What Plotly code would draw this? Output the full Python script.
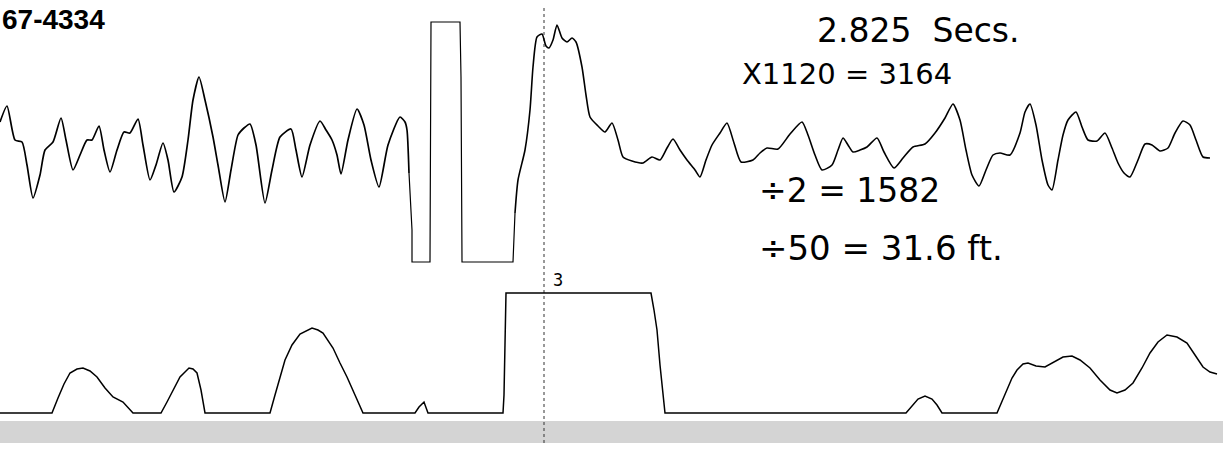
import plotly.graph_objects as go

top_x = [0, 7, 15, 22, 27, 33, 40, 45, 53, 61, 66, 73, 80, 87, 92, 99, 104, 110, 117, 124, 130, 138, 143, 150,
         156, 163, 168, 174, 182, 188, 193, 199, 205, 213, 218, 225, 231, 238, 244, 250, 256, 265, 272, 280,
         291, 296, 302, 310, 320, 326, 332, 337, 341, 348, 357, 364, 371, 379, 388, 400, 405, 407, 409, 412,
         412, 430, 431, 460, 461, 462, 513, 515, 518, 525, 530, 533, 537, 542, 546, 549, 553, 557, 562, 567,
         572, 576, 582, 586, 590, 598, 605, 612, 618, 623, 632, 643, 652, 660, 667, 673, 680, 687, 695, 700,
         706, 712, 720, 727, 734, 741, 753, 760, 767, 778, 790, 802, 808, 815, 822, 832, 838, 843, 848, 853,
         860, 867, 877, 884, 894, 903, 913, 925, 935, 945, 953, 960, 966, 972, 979, 986, 993, 1000, 1010,
         1020, 1025, 1030, 1036, 1042, 1048, 1052, 1058, 1063, 1068, 1076, 1082, 1088, 1097, 1105, 1112,
         1118, 1124, 1130, 1138, 1145, 1152, 1160, 1168, 1175, 1183, 1190, 1196, 1203, 1210]
top_y = [122, 106, 140, 142, 165, 198, 175, 150, 142, 118, 140, 170, 155, 140, 140, 126, 150, 172, 150, 132, 133,
         119, 145, 180, 165, 143, 160, 192, 177, 140, 100, 77, 100, 137, 165, 202, 170, 135, 128, 124, 145,
         203, 170, 137, 129, 150, 177, 145, 121, 130, 140, 155, 174, 140, 109, 125, 160, 187, 145, 117, 122,
         130, 173, 230, 262, 262, 22, 22, 77, 262, 262, 213, 180, 150, 110, 67, 37, 34, 46, 48, 40, 25, 38,
         42, 38, 42, 67, 95, 117, 126, 132, 123, 140, 157, 161, 163, 157, 160, 148, 139, 150, 160, 170, 177,
         160, 145, 133, 123, 143, 162, 160, 153, 148, 149, 134, 122, 135, 155, 170, 165, 150, 138, 145, 152,
         150, 147, 138, 152, 168, 158, 147, 144, 133, 118, 104, 120, 150, 175, 186, 170, 155, 153, 155, 133,
         112, 104, 125, 160, 185, 190, 160, 135, 120, 112, 127, 140, 141, 133, 148, 163, 173, 177, 160, 144,
         145, 151, 148, 133, 121, 125, 140, 157, 158]

# Lower trace
bot_x = [0, 52, 58, 64, 70, 77, 83, 90, 97, 105, 113, 123, 133, 161, 167, 173, 180, 189, 193, 197, 201, 205,
         270, 275, 280, 285, 292, 300, 312, 318, 323, 328, 333, 340, 347, 355, 363, 415, 419, 424, 428, 503,
         504, 506, 651, 654, 657, 660, 663, 665, 906, 912, 918, 925, 932, 937, 942, 997, 1005, 1012, 1017,
         1023, 1028, 1036, 1045, 1055, 1063, 1072, 1080, 1090, 1100, 1110, 1117, 1125, 1133, 1142, 1150,
         1158, 1167, 1177, 1187, 1195, 1203, 1210, 1217]
bot_y = [413, 413, 398, 384, 373, 369, 368, 371, 377, 388, 397, 402, 413, 413, 402, 390, 377, 368, 369, 373,
         390, 413, 413, 395, 377, 360, 345, 334, 328, 330, 333, 340, 348, 363, 377, 395, 413, 413, 407, 402,
         413, 413, 395, 293, 293, 310, 330, 365, 397, 413, 413, 406, 399, 396, 399, 405, 413, 413, 395, 378,
         370, 364, 363, 366, 367, 361, 357, 356, 360, 368, 380, 390, 393, 390, 383, 368, 353, 342, 335, 337,
         343, 355, 367, 372, 374]

cursor_x = [544, 544]
cursor_y = [8, 445]

title_text = "<b>67-4334</b>"
notes = ["2.825  Secs.", "X1120 = 3164", "÷2 = 1582", "÷50 = 31.6 ft."]
note_x = [815, 740, 757, 757]
note_y = [30, 74, 190, 248]
note_size = [33, 29, 33, 34]
marker_label = "3"


def segment(xs, ys, lo, hi):
    idx = [i for i, v in enumerate(xs) if lo <= v <= hi]
    return [xs[i] for i in idx], [ys[i] for i in idx]


fig = go.Figure()
fig.add_trace(go.Scatter(x=cursor_x, y=cursor_y, mode="lines",
                         line=dict(color="#333333", width=1, dash="dot"), hoverinfo="skip"))

# upper trace: smooth wave parts, straight pulse part
for lo, hi, shape, w in [(0, 409, "spline", 1.7), (409, 515, "linear", 1.2), (515, 1223, "spline", 1.6)]:
    sx, sy = segment(top_x, top_y, lo, hi)
    fig.add_trace(go.Scatter(x=sx, y=sy, mode="lines",
                             line=dict(color="black", width=w, shape=shape, smoothing=0.6),
                             hoverinfo="skip"))

# lower trace
fig.add_trace(go.Scatter(x=bot_x, y=bot_y, mode="lines",
                         line=dict(color="black", width=1.5), hoverinfo="skip"))

# dithered bottom band
fig.add_shape(type="rect", xref="x", yref="y", x0=0, x1=1223, y0=421, y1=443,
              fillcolor="#d4d4d4", line=dict(width=0), layer="below")

fig.add_annotation(x=0, y=2, xref="x", yref="y", text=title_text, showarrow=False,
                   xanchor="left", yanchor="top",
                   font=dict(family="Liberation Sans", size=28, color="black"))
for t, x, y, s in zip(notes, note_x, note_y, note_size):
    fig.add_annotation(x=x, y=y, xref="x", yref="y", text=t, showarrow=False,
                       xanchor="left", yanchor="middle",
                       font=dict(family="DejaVu Sans", size=s, color="black"))
fig.add_annotation(x=551, y=280, xref="x", yref="y", text=marker_label, showarrow=False,
                   xanchor="left", yanchor="middle",
                   font=dict(family="DejaVu Sans Mono", size=17, color="black"))

fig.update_layout(
    width=1223, height=450,
    margin=dict(l=0, r=0, t=0, b=0),
    paper_bgcolor="white", plot_bgcolor="white",
    showlegend=False,
    xaxis=dict(range=[0, 1223], visible=False, fixedrange=True),
    yaxis=dict(range=[450, 0], visible=False, fixedrange=True),
)

fig.write_html("out.html", config={"displayModeBar": False},
               post_script="document.body.style.margin='0';")
